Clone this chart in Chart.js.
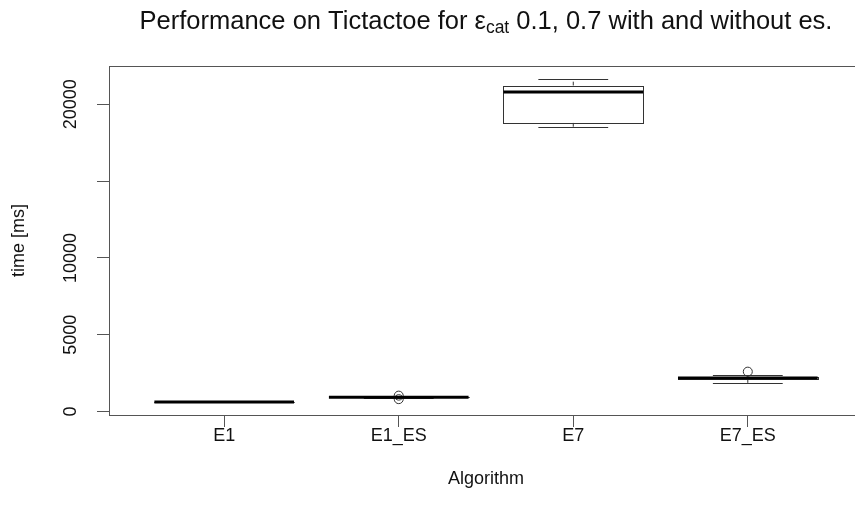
<!DOCTYPE html>
<html>
<head>
<meta charset="utf-8">
<script src="https://cdn.jsdelivr.net/npm/chart.js@4"></script>
<style>
  html, body { margin: 0; padding: 0; background: #fff; overflow: hidden; }
  #wrap { width: 880px; height: 523px; }
</style>
</head>
<body>
<div id="wrap"><canvas id="chart" width="880" height="523"></canvas></div>
<script>
const categories = ["E1", "E1_ES", "E7", "E7_ES"];
const lowerWhisker = [620, 905, 18500, 1850];
const q1 = [624, 925, 18800, 2130];
const median = [630, 938, 20800, 2190];
const q3 = [636, 950, 21210, 2260];
const upperWhisker = [645, 965, 21650, 2380];
// outliers: [category index (1-based), value]
const outliers = [[2, 1040], [2, 810], [4, 2600]];
const yTicks = [0, 5000, 10000, 15000, 20000];
const yTickLabels = ["0", "5000", "10000", "", "20000"];

const FONT = "Liberation Sans, Arial, Helvetica, sans-serif";
const INK = "#333";

// R-style axis limits: data range stretched by 4%
const allVals = lowerWhisker.concat(upperWhisker, outliers.map(o => o[1]));
const lo = Math.min(...allVals), hi = Math.max(...allVals);
const yMin = lo - 0.04 * (hi - lo);
const yMax = hi + 0.04 * (hi - lo);
const xMin = 0.5 - 0.04 * categories.length;
const xMax = categories.length + 0.5 + 0.04 * categories.length;

const boxPlugin = {
  id: "boxes",
  afterDatasetsDraw(chart) {
    const ctx = chart.ctx;
    const x = chart.scales.x, y = chart.scales.y;
    const area = chart.chartArea;
    ctx.save();
    ctx.strokeStyle = INK;
    for (let i = 0; i < categories.length; i++) {
      const c = i + 1;
      const xl = x.getPixelForValue(c - 0.4), xr = x.getPixelForValue(c + 0.4);
      const sl = x.getPixelForValue(c - 0.2), sr = x.getPixelForValue(c + 0.2);
      const xc = x.getPixelForValue(c);
      const yq1 = y.getPixelForValue(q1[i]), yq3 = y.getPixelForValue(q3[i]);
      const ylw = y.getPixelForValue(lowerWhisker[i]), yuw = y.getPixelForValue(upperWhisker[i]);
      const ym = y.getPixelForValue(median[i]);

      // whiskers (dashed)
      ctx.lineWidth = 1;
      ctx.setLineDash([4, 3]);
      ctx.beginPath();
      ctx.moveTo(xc, yq1); ctx.lineTo(xc, ylw);
      ctx.moveTo(xc, yq3); ctx.lineTo(xc, yuw);
      ctx.stroke();
      ctx.setLineDash([]);

      // staples
      ctx.beginPath();
      ctx.moveTo(sl, Math.round(ylw) + 0.5); ctx.lineTo(sr, Math.round(ylw) + 0.5);
      ctx.moveTo(sl, Math.round(yuw) + 0.5); ctx.lineTo(sr, Math.round(yuw) + 0.5);
      ctx.stroke();

      // box
      ctx.fillStyle = "#fff";
      ctx.fillRect(xl, yq3, xr - xl, yq1 - yq3);
      ctx.strokeRect(Math.round(xl) + 0.5, Math.round(yq3) + 0.5, Math.round(xr - xl), Math.round(yq1 - yq3));

      // median
      ctx.lineWidth = 3;
      ctx.strokeStyle = "#000";
      ctx.beginPath();
      ctx.moveTo(xl, ym); ctx.lineTo(xr, ym);
      ctx.stroke();
      ctx.strokeStyle = INK;
    }

    // frame
    ctx.lineWidth = 1;
    ctx.strokeStyle = "#555";
    ctx.strokeRect(Math.round(area.left) + 0.5, Math.round(area.top) + 0.5,
      Math.round(area.right - area.left), Math.round(area.bottom - area.top));

    // rotated y tick labels, like R's default las = 0
    ctx.fillStyle = "#111";
    ctx.font = "18px " + FONT;
    ctx.textAlign = "center";
    ctx.textBaseline = "middle";
    y.ticks.forEach(t => {
      const lab = yTickLabels[yTicks.indexOf(t.value)];
      if (!lab) return;
      ctx.save();
      ctx.translate(71, y.getPixelForValue(t.value));
      ctx.rotate(-Math.PI / 2);
      ctx.fillText(lab, 0, 0);
      ctx.restore();
    });

    // main title with subscript
    const cx = (area.left + area.right) / 2;
    const big = "25.5px " + FONT, small = "17.5px " + FONT;
    const p1 = "Performance on Tictactoe for \u03b5", sub = "cat", p2 = " 0.1, 0.7 with and without es.";
    ctx.font = big; const w1 = ctx.measureText(p1).width, w3 = ctx.measureText(p2).width;
    ctx.font = small; const w2 = ctx.measureText(sub).width;
    let tx = cx - (w1 + w2 + w3) / 2;
    const ty = 22;
    ctx.textAlign = "left";
    ctx.font = big; ctx.fillText(p1, tx, ty); tx += w1;
    ctx.font = small; ctx.fillText(sub, tx, ty + 6); tx += w2;
    ctx.font = big; ctx.fillText(p2, tx, ty);
    ctx.restore();
  }
};

const ctx = document.getElementById("chart").getContext("2d");
new Chart(ctx, {
  type: "scatter",
  data: {
    datasets: [{
      label: "outliers",
      data: outliers.map(o => ({ x: o[0], y: o[1] })),
      pointStyle: "circle",
      pointRadius: 4.5,
      borderColor: INK,
      borderWidth: 1,
      backgroundColor: "rgba(0,0,0,0)"
    }]
  },
  options: {
    responsive: false,
    animation: false,
    layout: { padding: { top: 66, right: 17, left: 0, bottom: 0 } },
    plugins: { legend: { display: false }, tooltip: { enabled: false }, title: { display: false } },
    scales: {
      x: {
        type: "linear",
        min: xMin,
        max: xMax,
        afterBuildTicks: s => { s.ticks = categories.map((c, i) => ({ value: i + 1 })); },
        afterFit: s => { s.height = 108; },
        ticks: {
          callback: v => categories[v - 1] || "",
          color: "#111",
          font: { family: FONT, size: 18 },
          padding: -2,
          maxRotation: 0
        },
        grid: { drawOnChartArea: false, drawTicks: true, tickLength: 12, color: "#555" },
        border: { display: false },
        title: {
          display: true,
          text: "Algorithm",
          color: "#111",
          font: { family: FONT, size: 18 },
          padding: { top: 0, bottom: 33 }
        }
      },
      y: {
        min: yMin,
        max: yMax,
        afterBuildTicks: s => { s.ticks = yTicks.map(v => ({ value: v })); },
        afterFit: s => { s.width = 109; },
        ticks: { display: false },
        grid: { drawOnChartArea: false, drawTicks: true, tickLength: 12, color: "#555" },
        border: { display: false },
        title: {
          display: true,
          text: "time [ms]",
          color: "#111",
          font: { family: FONT, size: 18 },
          padding: { top: 8, bottom: 0 }
        }
      }
    }
  },
  plugins: [boxPlugin]
});
</script>
</body>
</html>
